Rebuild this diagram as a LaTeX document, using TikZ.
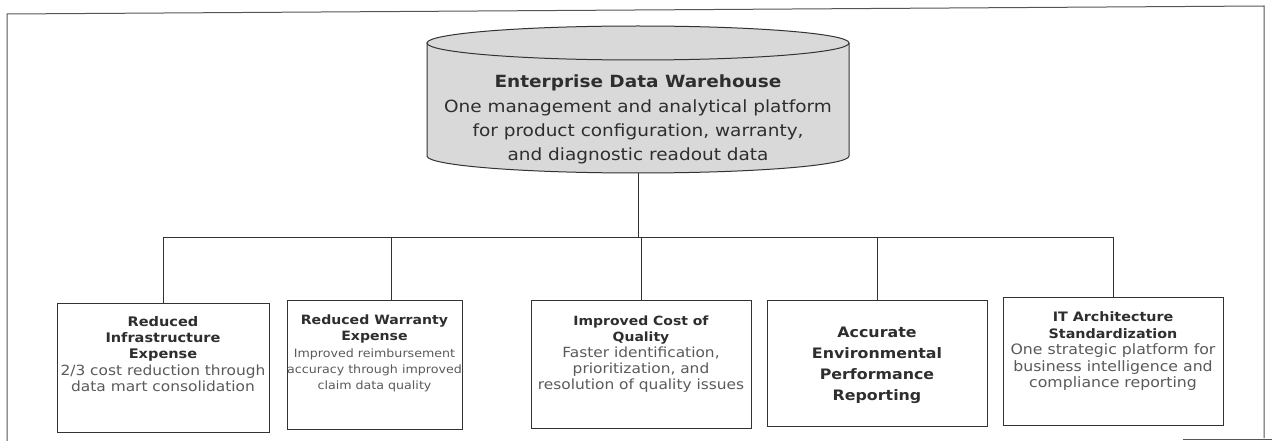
\documentclass[tikz,border=0pt]{standalone}
\usepackage{fontspec}
\setmainfont{DejaVu Sans}[FakeStretch=1.1]
\definecolor{linec}{HTML}{333333}
\definecolor{framec}{HTML}{555555}
\definecolor{cylfill}{HTML}{D9D9D9}
\definecolor{titlec}{HTML}{2E2E2E}
\definecolor{bodyc}{HTML}{5A5A5A}
\newcommand{\tf}[2]{{\fontsize{#1}{16.3}\selectfont\color{titlec}\bfseries #2}}
\begin{document}
\begin{tikzpicture}[x=1pt,y=1pt,
  conn/.style={draw=linec, line width=0.9pt},
  boxnode/.style={draw=linec, line width=1pt, inner sep=0pt, fill=white},
  txt/.style={anchor=north, inner sep=0pt, align=center, text=bodyc}
]
\useasboundingbox (0,0) rectangle (1272,-441);
% outer frame
\draw[framec, line width=1pt] (7,-441) -- (7,-14) -- (1264,-6) -- (1264,-438);
\draw[framec, line width=1pt] (1183,-439) -- (1272,-439);
% cylinder
\fill[cylfill] (427,-43) -- (427,-156) arc[start angle=180,end angle=360,x radius=211pt,y radius=17pt] -- (849,-43) arc[start angle=0,end angle=180,x radius=211pt,y radius=17pt] -- cycle;
\draw[linec, line width=1pt] (427,-43) -- (427,-156) arc[start angle=180,end angle=360,x radius=211pt,y radius=17pt] -- (849,-43);
\draw[linec, line width=1pt] (638,-43) ellipse[x radius=211pt, y radius=17pt];
\coordinate (edwbot) at (638,-173);
\node[txt, text=titlec, font={\fontsize{16.8}{24.3}\selectfont}] (edw) at (638,-75)
  {\textbf{Enterprise Data Warehouse}\\One management and analytical platform\\for product configuration, warranty,\\and diagnostic readout data};
% boxes
\node[boxnode, minimum width=212pt, minimum height=129pt] (b1) at (163,-367.5) {};
\node[boxnode, minimum width=175pt, minimum height=129pt] (b2) at (374.5,-364.5) {};
\node[boxnode, minimum width=220pt, minimum height=128pt] (b3) at (641,-364) {};
\node[boxnode, minimum width=220pt, minimum height=126pt] (b4) at (877,-363) {};
\node[boxnode, minimum width=220pt, minimum height=128pt] (b5) at (1113,-361) {};
% box texts
\node[txt, font={\fontsize{14}{16.3}\selectfont}] (b1t) at (163,-316)
  {\tf{13.2}{Reduced}\\\tf{13.2}{Infrastructure}\\\tf{13.2}{Expense}\\2/3 cost reduction through\\data mart consolidation};
\node[txt, font={\fontsize{11.5}{16.3}\selectfont}] (b2t) at (374.5,-314.5)
  {\tf{12.8}{Reduced Warranty}\\\tf{12.8}{Expense}\\Improved reimbursement\\accuracy through improved\\claim data quality};
\node[txt, font={\fontsize{14}{16}\selectfont}] (b3t) at (641,-315.5)
  {\tf{12.7}{Improved Cost of}\\\tf{12.7}{Quality}\\Faster identification,\\prioritization, and\\resolution of quality issues};
\node[txt, text=titlec, font={\fontsize{14.4}{21}\selectfont\bfseries}] (b4t) at (877,-327)
  {Accurate\\Environmental\\Performance\\Reporting};
\node[txt, font={\fontsize{14.3}{16.5}\selectfont}] (b5t) at (1113,-311.5)
  {\tf{13}{IT Architecture}\\\tf{13}{Standardization}\\One strategic platform for\\business intelligence and\\compliance reporting};
% connectors
\coordinate (bus) at (638,-237);
\coordinate (b2top) at (391,-300);
\draw[conn] (edwbot) -- (bus);
\draw[conn] (b1.north) -- (b1.north |- bus) -- (b5.north |- bus) -- (b5.north);
\draw[conn] (b2top |- bus) -- (b2top);
\draw[conn] (b3.north |- bus) -- (b3.north);
\draw[conn] (b4.north |- bus) -- (b4.north);
\end{tikzpicture}
\end{document}
